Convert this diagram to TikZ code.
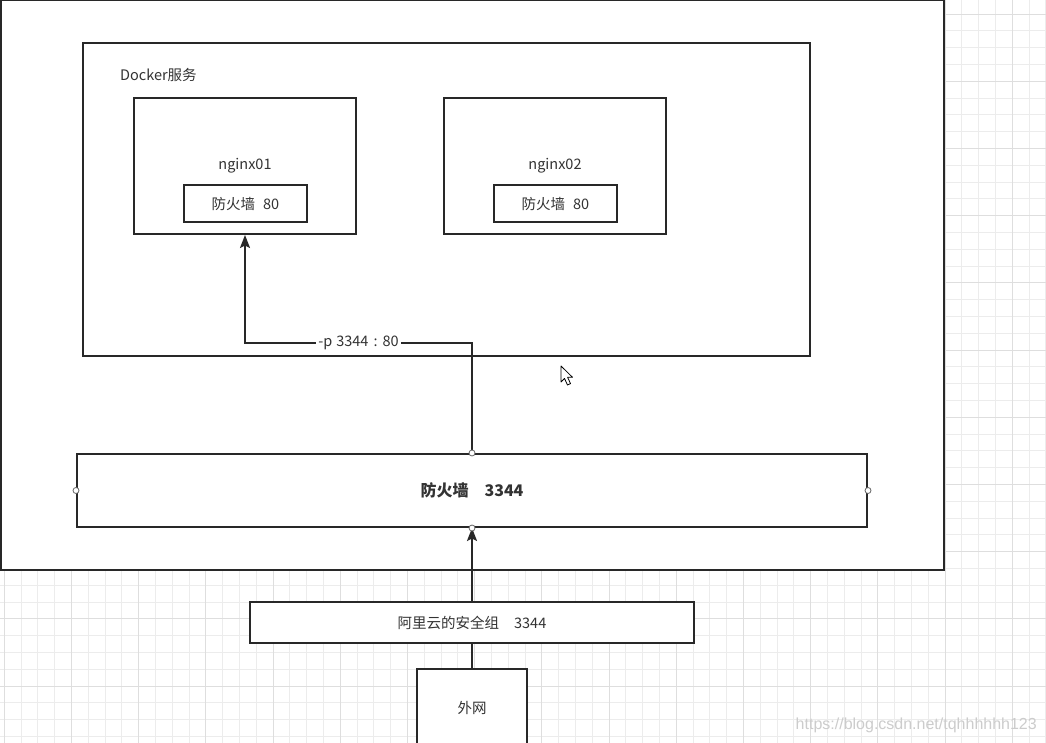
\documentclass[tikz,border=0pt]{standalone}
\usepackage{fontspec}
\setmainfont{Noto Sans CJK SC}
\newfontfamily\wmfont{Liberation Sans}
\usetikzlibrary{arrows.meta}
\definecolor{lc}{RGB}{40,40,40}
\definecolor{tc}{RGB}{51,51,51}
\definecolor{gminor}{RGB}{236,236,236}
\definecolor{gmajor}{RGB}{222,222,222}
\tikzset{
  x=1pt, y=-1pt,
  box/.style={draw=lc, line width=2pt, fill=white, rectangle, inner sep=0pt, text=tc, font=\fontsize{14.5}{16}\selectfont},
  conn/.style={draw=lc, line width=2pt},
  arr/.style={conn, -{Stealth[length=13pt,width=10pt,inset=2.5pt]}},
  port/.style={circle, draw=gray!80!black, fill=white, line width=0.8pt, minimum size=6pt, inner sep=0pt},
  lbl/.style={text=tc, inner sep=1pt, font=\fontsize{14.5}{16}\selectfont},
}
\begin{document}
\begin{tikzpicture}
\useasboundingbox (0,0) rectangle (1046,743);
\clip (0,0) rectangle (1046,743);
\fill[white] (0,0) rectangle (1046,743);
% grid
\foreach \i in {0,...,62} {
  \draw[gminor, line width=0.7pt] ({4.1+16.8*\i},0) -- ({4.1+16.8*\i},743);
}
\foreach \j in {0,...,44} {
  \draw[gminor, line width=0.7pt] (0,{14+16.8*\j}) -- (1046,{14+16.8*\j});
}
\foreach \i in {0,...,16} {
  \draw[gmajor, line width=0.7pt] ({4.1+67.2*\i},0) -- ({4.1+67.2*\i},743);
}
\foreach \j in {0,...,11} {
  \draw[gmajor, line width=0.7pt] (0,{14+67.2*\j}) -- (1046,{14+67.2*\j});
}
% watermark
\node[anchor=east, text=gray!40, font=\wmfont\fontsize{16}{18}\selectfont, inner sep=0pt] (wm) at (1037,725) {https://blog.csdn.net/tqhhhhhh123};
% outer host box
\node[box, minimum width=943pt, minimum height=570pt] (host) at (472.5,285) {};
% docker box
\node[box, minimum width=727pt, minimum height=313pt] (docker) at (446.5,199.5) {};
\node[lbl, anchor=west] (dockerlbl) at (119,75) {Docker服务};
% nginx01
\node[box, minimum width=222pt, minimum height=136pt] (n1) at (245,166) {};
\node[lbl] (n1lbl) at (245,166) {nginx01};
\node[box, minimum width=123pt, minimum height=37pt] (fw1) at (245.5,203.5) {防火墙\hspace{8pt}80};
% nginx02
\node[box, minimum width=222pt, minimum height=136pt] (n2) at (555,166) {};
\node[lbl] (n2lbl) at (555,166) {nginx02};
\node[box, minimum width=123pt, minimum height=37pt] (fw2) at (555.5,203.5) {防火墙\hspace{8pt}80};
% host firewall
\node[box, minimum width=790pt, minimum height=73pt, font=\fontsize{16}{18}\selectfont\bfseries] (fw) at (472,490.5) {防火墙\hspace{16pt}3344};
% aliyun security group
\node[box, minimum width=444pt, minimum height=41pt] (sg) at (472,622.5) {阿里云的安全组\hspace{15pt}3344};
% internet
\node[box, minimum width=110pt, minimum height=78pt] (net) at (472,708) {外网};
% connectors
\coordinate (b1) at (472,343);
\coordinate (b2) at (245,343);
\draw[arr] (fw.north) -- (b1) -- node[fill=white, lbl, inner sep=2pt] (plbl) {-p\hspace{4pt}3344\hspace{5pt}:\hspace{5pt}80} (b2) -- (n1.south);
\draw[arr] (sg.north) -- (fw.south);
\draw[conn] (net.north) -- (sg.south);
% ports
\node[port] (p1) at (fw.north) {};
\node[port] (p2) at (fw.south) {};
\node[port] (p3) at (fw.west) {};
\node[port] (p4) at (fw.east) {};
% mouse cursor
\draw[black, fill=white, line width=0.8pt, line join=round] (561,366) -- (561,382) -- (564.5,378.5) -- (567.5,385) -- (570.5,383.6) -- (567.6,377.3) -- (572.5,377.3) -- cycle;
\end{tikzpicture}
\end{document}
